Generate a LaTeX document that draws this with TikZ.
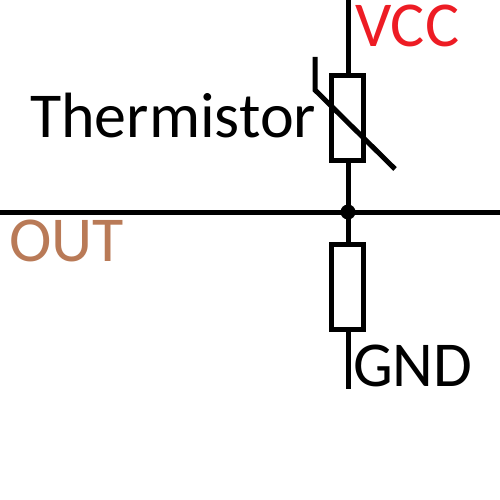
\documentclass[tikz,border=0pt]{standalone}
\usepackage{fontspec}
\setmainfont{Carlito}
\definecolor{vcccol}{RGB}{237,28,36}
\definecolor{outcol}{RGB}{185,122,87}
\tikzset{
  wire/.style={line width=5pt},
  res/.style={draw, line width=5pt, fill=white, minimum width=32pt, minimum height=85pt, inner sep=0pt},
  lab/.style={inner sep=0pt, font=\fontsize{64}{64}\selectfont}
}
\begin{document}
\begin{tikzpicture}[x=1pt, y=-1pt]
    \useasboundingbox (0, 0) rectangle (500, 500);
    \coordinate (top) at (348, 0);
    \coordinate (bot) at (348, 389);
    \coordinate (left) at (0, 212);
    \coordinate (right) at (500, 212);
    \coordinate (arrowa) at (315, 57);
    \coordinate (arrowb) at (315, 90);
    \coordinate (arrowc) at (395, 169);
    \draw[wire] (top) -- (bot);
    \draw[wire] (left) -- (right);
    \node[res] (therm) at (347.5, 118) {};
    \node[res] (fixed) at (347.5, 286.5) {};
    \draw[wire] (arrowa) -- (arrowb) -- (arrowc);
    \node[circle, fill=black, inner sep=0pt, minimum size=15pt] (junc) at (348, 212) {};
    \node[lab, text=vcccol, anchor=west] (vcc) at (355, 26) {VCC};
    \node[lab, anchor=west] (thermlab) at (30, 116) {Thermistor};
    \node[lab, text=outcol, anchor=west] (out) at (9, 241) {OUT};
    \node[lab, anchor=west, xscale=0.985] (gnd) at (353, 366) {GND};
\end{tikzpicture}
\end{document}
